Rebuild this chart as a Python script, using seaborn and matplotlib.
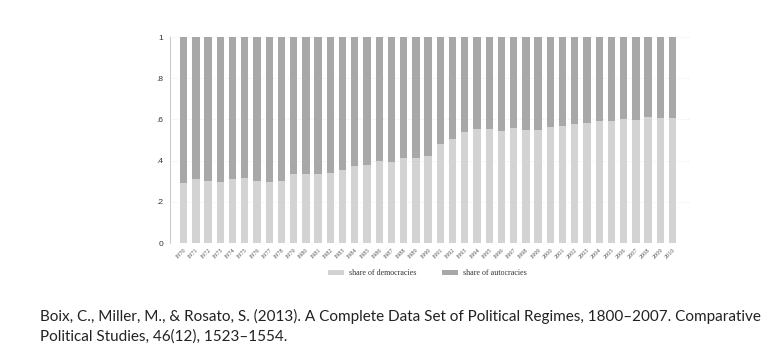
import numpy as np
import pandas as pd
import matplotlib
matplotlib.use("Agg")
import matplotlib.pyplot as plt
import seaborn as sns
from matplotlib.patches import Patch

years = list(range(1970, 2011))
share_democracies = [0.293, 0.311, 0.303, 0.297, 0.311, 0.316, 0.303, 0.298, 0.300, 0.337,
                     0.337, 0.334, 0.340, 0.355, 0.376, 0.379, 0.399, 0.394, 0.411, 0.411,
                     0.423, 0.482, 0.505, 0.537, 0.553, 0.553, 0.544, 0.557, 0.550, 0.550,
                     0.563, 0.568, 0.579, 0.584, 0.590, 0.590, 0.602, 0.595, 0.613, 0.608,
                     0.607]
share_autocracies = [1 - d for d in share_democracies]
y_ticks = [0, 0.2, 0.4, 0.6, 0.8, 1.0]
y_ticklabels = ["0", ".2", ".4", ".6", ".8", "1"]
legend_labels = ["share of democracies", "share of autocracies"]
citation_lines = ["Boix, C., Miller, M., & Rosato, S. (2013). A Complete Data Set of Political Regimes, 1800\u20132007. Comparative",
                  "Political Studies, 46(12), 1523\u20131554."]

light = "#d3d3d3"
dark = "#a8a8a8"

sns.set_style("white")
plt.rcParams['font.family'] = ['Liberation Serif', 'DejaVu Serif']

df = pd.DataFrame({"year": [str(y) for y in years],
                   "dem": share_democracies,
                   "total": [d + a for d, a in zip(share_democracies, share_autocracies)]})

fig = plt.figure(figsize=(7.76, 3.49), dpi=100)
ax = fig.add_axes([170/776, 1 - 243/349, 520/776, 206/349])

sns.barplot(data=df, x="year", y="total", color=dark, saturation=1, width=0.6, ax=ax, edgecolor="none")
sns.barplot(data=df, x="year", y="dem", color=light, saturation=1, width=0.6, ax=ax, edgecolor="none")

ax.set_xlim(-1.12, 41.43)
ax.set_ylim(0, 1)
ax.set_yticks(y_ticks)
ax.set_yticklabels(y_ticklabels, fontsize=6, color="#333333", family=["Liberation Sans"])
ax.set_xticks(range(len(years)))
ax.set_xticklabels([str(y) for y in years], rotation=45, fontsize=4.5, color="#555555", ha="right", rotation_mode="anchor")
ax.set_xlabel("")
ax.set_ylabel("")
ax.set_axisbelow(True)
ax.yaxis.grid(True, linestyle=(0, (1, 2)), color="#e6e6e6", linewidth=0.6)
for s in ["top", "right", "bottom"]:
    ax.spines[s].set_visible(False)
ax.spines["left"].set_color("#cccccc")
ax.spines["left"].set_linewidth(0.8)
ax.tick_params(axis="y", length=3, width=0.6, color="#cccccc", pad=2)
ax.tick_params(axis="x", length=2, width=0.5, color="#cccccc", pad=1)

handles = [Patch(facecolor=light, edgecolor="none"), Patch(facecolor=dark, edgecolor="none")]
fig.legend(handles, legend_labels, loc="center", bbox_to_anchor=(427/776, 1 - 273/349), ncol=2,
           frameon=False, fontsize=5.8, handlelength=2.0, handleheight=0.6, columnspacing=3.2,
           handletextpad=0.6, labelcolor="#333333")

for i, line in enumerate(citation_lines):
    fig.text(40/776, 1 - (321 + 20 * i)/349, line, fontsize=11, family=["Lato", "DejaVu Sans"],
             color="#222222", va="baseline", ha="left")

fig.savefig("out.png", dpi=100)
